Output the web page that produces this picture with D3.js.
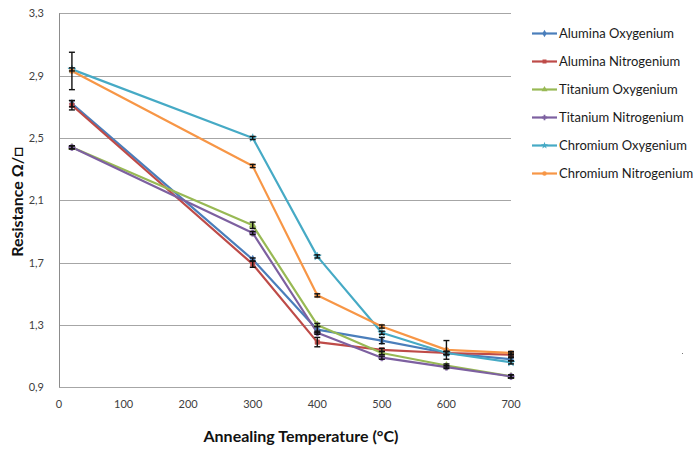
<!DOCTYPE html>
<html><head><meta charset="utf-8">
<script src="https://cdn.jsdelivr.net/npm/d3@7"></script>
<style>body{margin:0;background:#fff}svg{display:block}</style>
</head><body>
<svg id="c" width="700" height="451"></svg>
<script>
const temps = [20, 300, 400, 500, 600, 700];
const seriesNames = ["Alumina Oxygenium","Alumina Nitrogenium","Titanium Oxygenium","Titanium Nitrogenium","Chromium Oxygenium","Chromium Nitrogenium"];
const aluminaOxy   = [2.72, 1.72, 1.27, 1.20, 1.12, 1.08];
const aluminaNit   = [2.71, 1.69, 1.19, 1.14, 1.12, 1.11];
const titaniumOxy  = [2.44, 1.94, 1.30, 1.12, 1.04, 0.97];
const titaniumNit  = [2.44, 1.89, 1.25, 1.09, 1.03, 0.97];
const chromiumOxy  = [2.94, 2.50, 1.74, 1.25, 1.12, 1.06];
const chromiumNit  = [2.93, 2.32, 1.49, 1.29, 1.14, 1.12];
const errAluminaOxy  = [0.02, 0.01, 0.02, 0.02, 0.01, 0.01];
const errAluminaNit  = [0.03, 0.02, 0.03, 0.01, 0.01, 0.01];
const errTitaniumOxy = [0.01, 0.02, 0.01, 0.01, 0.01, 0.01];
const errTitaniumNit = [0.01, 0.01, 0.01, 0.01, 0.01, 0.01];
const errChromiumOxy = [0.01, 0.01, 0.01, 0.01, 0.01, 0.01];
const errChromiumNit = [0.12, 0.01, 0.01, 0.01, 0.06, 0.01];
const xTicks = [0, 100, 200, 300, 400, 500, 600, 700];
const yTicks = [0.9, 1.3, 1.7, 2.1, 2.5, 2.9, 3.3];
const colors = ["#4A7EBB","#BE4B48","#98B954","#7D60A0","#46AAC5","#F79646"];
const symbols = [d3.symbolDiamond, d3.symbolSquare, d3.symbolTriangle, d3.symbolCross, d3.symbolStar, d3.symbolCircle];

const values = [aluminaOxy, aluminaNit, titaniumOxy, titaniumNit, chromiumOxy, chromiumNit];
const errs = [errAluminaOxy, errAluminaNit, errTitaniumOxy, errTitaniumNit, errChromiumOxy, errChromiumNit];
const series = seriesNames.map((n,i)=>({name:n, color:colors[i], sym:symbols[i],
  pts: temps.map((t,j)=>({x:t, y:values[i][j], e:errs[i][j]}))}));

const svg = d3.select("#c");
const x = d3.scaleLinear().domain([0,700]).range([59,511]);
const y = d3.scaleLinear().domain([0.9,3.3]).range([387.3,13.3]);
const fontFam = "Lato, 'Open Sans', sans-serif";

// gridlines
svg.append("g").selectAll("line").data(yTicks).join("line")
  .attr("x1", x(0)).attr("x2", x(700))
  .attr("y1", d=>Math.round(y(d))+0.5).attr("y2", d=>Math.round(y(d))+0.5)
  .attr("stroke", "#a6a6a6").attr("stroke-width", 1);
// left axis line
svg.append("line").attr("x1", Math.round(x(0))+0.5).attr("x2", Math.round(x(0))+0.5)
  .attr("y1", y(3.3)).attr("y2", y(0.9)).attr("stroke","#8c8c8c");

// y tick labels
const fmt = d => d.toFixed(1).replace(".", ",");
svg.append("g").selectAll("text").data(yTicks).join("text")
  .attr("x", 44).attr("y", d=>y(d)+4).attr("text-anchor","end")
  .attr("font-family", fontFam).attr("font-size", 11).attr("fill","#404040")
  .text(fmt);
// x tick labels
svg.append("g").selectAll("text").data(xTicks).join("text")
  .attr("x", d=>x(d)).attr("y", 408).attr("text-anchor","middle")
  .attr("font-family", fontFam).attr("font-size", 11).attr("fill","#404040")
  .text(d=>d);

// lines
const line = d3.line().x(d=>x(d.x)).y(d=>y(d.y));
series.forEach(s=>{
  svg.append("path").datum(s.pts).attr("d", line).attr("fill","none")
    .attr("stroke", s.color).attr("stroke-width", 2.2).attr("stroke-linejoin","round");
});
// markers
series.forEach(s=>{
  const g = svg.append("g");
  g.selectAll("path").data(s.pts).join("path")
    .attr("transform", d=>`translate(${x(d.x)},${y(d.y)})`)
    .attr("d", d3.symbol().type(s.sym).size(s.sym===d3.symbolCross?22:20))
    .attr("fill", s.color).attr("stroke", s.color).attr("stroke-width", 0.6);
});
// error bars
series.forEach(s=>{
  const g = svg.append("g").attr("stroke","#111").attr("stroke-width",1.4);
  s.pts.forEach(d=>{
    const cx = x(d.x), y1 = y(d.y+d.e), y2 = y(d.y-d.e);
    g.append("line").attr("x1",cx).attr("x2",cx).attr("y1",y1).attr("y2",y2);
    g.append("line").attr("x1",cx-3).attr("x2",cx+3).attr("y1",y1).attr("y2",y1);
    g.append("line").attr("x1",cx-3).attr("x2",cx+3).attr("y1",y2).attr("y2",y2);
  });
});

// legend
const lg = svg.append("g");
series.forEach((s,i)=>{
  const ly = 33.5 + i*28;
  lg.append("line").attr("x1",532).attr("x2",557).attr("y1",ly).attr("y2",ly)
    .attr("stroke", s.color).attr("stroke-width", 2.2);
  lg.append("path").attr("transform",`translate(544.5,${ly})`)
    .attr("d", d3.symbol().type(s.sym).size(16)).attr("fill", s.color);
  lg.append("text").attr("x",559).attr("y",ly+4.5).attr("font-family",fontFam)
    .attr("font-size",13).attr("fill","#1a1a1a").text(s.name);
});
// stray dot
svg.append("rect").attr("x",682).attr("y",353).attr("width",1).attr("height",1).attr("fill","#777");

// axis titles
svg.append("text").attr("x", 301).attr("y", 442).attr("text-anchor","middle")
  .attr("font-family",fontFam).attr("font-weight","bold").attr("font-size",16).attr("fill","#111")
  .text("Annealing Temperature (°C)");
svg.append("text").attr("transform","translate(23,202) rotate(-90)").attr("text-anchor","middle")
  .attr("font-family",fontFam).attr("font-weight","bold").attr("font-size",16).attr("fill","#111")
  .text("Resistance Ω/□");
</script>
</body></html>
